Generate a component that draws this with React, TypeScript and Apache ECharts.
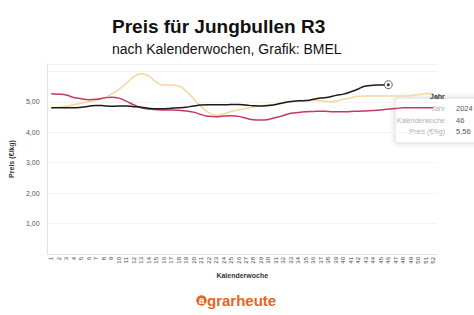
import React, { useEffect, useRef } from "react";
import * as echarts from "echarts";

const weeks: string[] = Array.from({ length: 52 }, (_, i) => String(i + 1));

const years = ["2022", "2023", "2024"];

const values2022: number[] = [
  4.8, 4.82, 4.85, 4.9, 4.95, 5.0, 5.05, 5.12, 5.25, 5.4, 5.6, 5.82, 5.92, 5.85, 5.65, 5.55, 5.55, 5.52, 5.35, 5.1,
  4.85, 4.65, 4.56, 4.6, 4.68, 4.73, 4.78, 4.83, 4.87, 4.9, 4.92, 4.96, 5.0, 5.02, 5.04, 5.05, 5.03, 5.0, 5.02, 5.08,
  5.13, 5.18, 5.19, 5.19, 5.19, 5.19, 5.19, 5.19, 5.2, 5.24, 5.27, 5.28,
];

const values2023: number[] = [
  5.26, 5.25, 5.22, 5.14, 5.1, 5.07, 5.08, 5.12, 5.15, 5.12, 5.02, 4.9, 4.8, 4.76, 4.74, 4.73, 4.73, 4.72, 4.7, 4.66,
  4.58, 4.52, 4.51, 4.53, 4.54, 4.52, 4.46, 4.41, 4.4, 4.42, 4.48, 4.55, 4.62, 4.65, 4.67, 4.68, 4.69, 4.68, 4.67, 4.67,
  4.68, 4.69, 4.7, 4.71, 4.73, 4.76, 4.78, 4.8, 4.8, 4.8, 4.8, 4.8,
];

const values2024: number[] = [
  4.8, 4.8, 4.8, 4.8, 4.82, 4.85, 4.88, 4.87, 4.85, 4.86, 4.86, 4.84, 4.82, 4.79, 4.77, 4.77, 4.79, 4.8, 4.82, 4.86,
  4.89, 4.9, 4.9, 4.9, 4.91, 4.91, 4.89, 4.87, 4.86, 4.88, 4.91, 4.97, 5.01, 5.03, 5.04, 5.08, 5.12, 5.15, 5.21, 5.25,
  5.33, 5.42, 5.52, 5.54, 5.55, 5.56,
];

const tooltipLabels = ["Jahr", "Kalenderwoche", "Preis (€/kg)"];
const tooltipValues = ["2024", "46", "5,56"];

const FONT = "'Liberation Sans', Arial, sans-serif";

export default function App() {
  const ref = useRef<HTMLDivElement>(null);

  useEffect(() => {
    document.body.style.margin = "0";
    const chart = echarts.init(ref.current!, undefined, { renderer: "svg" });
    const hi = 45;
    const tipChildren: any[] = [
      {
        type: "rect",
        shape: { x: 395, y: 98, width: 90, height: 45, r: 2 },
        style: { fill: "#fff", stroke: "#dddddd", lineWidth: 1, shadowBlur: 6, shadowColor: "rgba(0,0,0,0.15)" },
      },
    ];
    tooltipLabels.forEach((l, i) => {
      tipChildren.push({
        type: "text",
        style: {
          x: 445,
          y: 108.5 + i * 11.7,
          text: l,
          textAlign: "right",
          textVerticalAlign: "middle",
          fill: "#b0b0b0",
          font: `7px ${FONT}`,
        },
      });
      tipChildren.push({
        type: "text",
        style: {
          x: 456,
          y: 108.5 + i * 11.7,
          text: tooltipValues[i],
          textAlign: "left",
          textVerticalAlign: "middle",
          fill: "#555555",
          font: `7.5px ${FONT}`,
        },
      });
    });

    chart.setOption({
      animation: false,
      backgroundColor: "#ffffff",
      grid: { left: 35, right: 37, top: 64, bottom: 61 },
      xAxis: {
        type: "category",
        data: weeks,
        boundaryGap: true,
        name: "Kalenderwoche",
        nameLocation: "middle",
        nameGap: 18,
        nameTextStyle: { fontFamily: FONT, fontSize: 7, fontWeight: "bold", color: "#333" },
        axisLine: { lineStyle: { color: "#e3e3e3" } },
        axisTick: { show: false },
        axisLabel: { interval: 0, rotate: 90, fontSize: 6, color: "#444", fontFamily: FONT, margin: 3 },
      },
      yAxis: {
        type: "value",
        min: 0,
        max: 6.24,
        interval: 1,
        name: "Preis (€/kg)",
        nameLocation: "middle",
        nameGap: 26,
        nameTextStyle: { fontFamily: FONT, fontSize: 7, fontWeight: "bold", color: "#333" },
        axisLine: { show: true, lineStyle: { color: "#e3e3e3" } },
        axisTick: { show: false },
        splitLine: { lineStyle: { color: "#f3f3f3" } },
        axisLabel: {
          fontSize: 7,
          color: "#555555",
          fontFamily: FONT,
          margin: 8,
          formatter: (v: number) => (v === 0 || v > 5.5 ? "" : v.toFixed(2).replace(".", ",")),
        },
      },
      title: [
        {
          text: "Preis für Jungbullen R3",
          left: 107,
          top: 12,
          textStyle: { fontFamily: FONT, fontSize: 19, fontWeight: "bold", color: "#111" },
        },
        {
          text: "nach Kalenderwochen, Grafik: BMEL",
          left: 107,
          top: 37,
          textStyle: { fontFamily: FONT, fontSize: 14, fontWeight: "normal", color: "#111" },
        },
      ],
      series: [
        {
          name: years[0],
          type: "line",
          data: values2022,
          smooth: true,
          showSymbol: false,
          lineStyle: { color: "#f2d89b", width: 1.5 },
          itemStyle: { color: "#f2d89b" },
          z: 2,
        },
        {
          name: years[1],
          type: "line",
          data: values2023,
          smooth: true,
          showSymbol: false,
          lineStyle: { color: "#c43866", width: 1.5 },
          itemStyle: { color: "#c43866" },
          z: 3,
        },
        {
          name: years[2],
          type: "line",
          data: values2024,
          smooth: true,
          showSymbol: false,
          lineStyle: { color: "#1a1a1a", width: 1.5 },
          itemStyle: { color: "#1a1a1a" },
          z: 4,
          markPoint: {
            silent: true,
            label: { show: false },
            data: [
              {
                coord: [hi, values2024[hi]],
                symbol: "circle",
                symbolSize: 8,
                itemStyle: { color: "#ffffff", borderColor: "#666", borderWidth: 1 },
              },
              {
                coord: [hi, values2024[hi]],
                symbol: "circle",
                symbolSize: 3,
                itemStyle: { color: "#333" },
              },
            ],
          },
        },
      ],
      graphic: [
        {
          type: "text",
          z: 50,
          style: { x: 430, y: 96, text: "Jahr", textVerticalAlign: "middle", fill: "#333", font: `bold 7px ${FONT}` },
        },
        { type: "group", z: 100, children: tipChildren },
        {
          type: "circle",
          shape: { cx: 201.5, cy: 300.5, r: 5.2 },
          style: { fill: "#e8631f" },
        },
        {
          type: "text",
          style: {
            x: 201.5,
            y: 300,
            text: "a",
            textAlign: "center",
            textVerticalAlign: "middle",
            fill: "#ffffff",
            font: `bold 10px ${FONT}`,
          },
        },
        {
          type: "text",
          style: {
            x: 207,
            y: 300,
            text: "grarheute",
            textAlign: "left",
            textVerticalAlign: "middle",
            fill: "#e8631f",
            font: `bold 15px ${FONT}`,
          },
        },
      ],
    });
    return () => chart.dispose();
  }, []);

  return <div ref={ref} style={{ width: 474, height: 315 }} />;
}
